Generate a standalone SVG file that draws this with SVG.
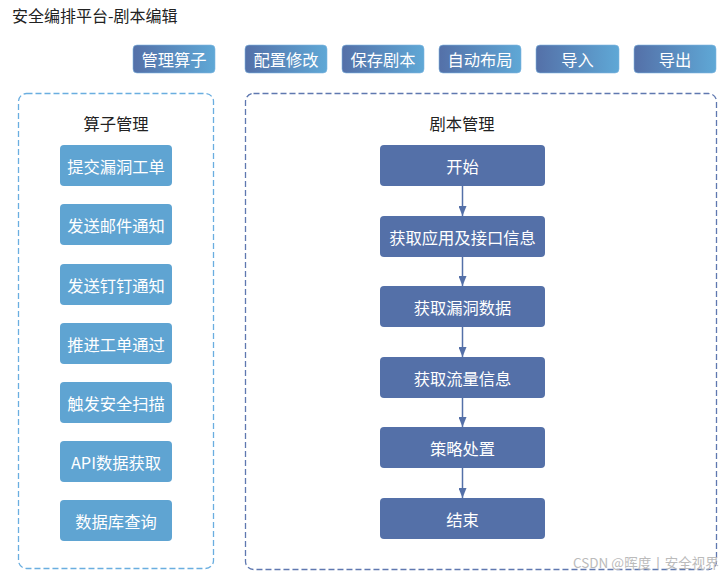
<svg xmlns="http://www.w3.org/2000/svg" width="726" height="576" viewBox="0 0 726 576">
<defs>
<linearGradient id="btnGrad" x1="0" y1="0" x2="1" y2="0">
<stop offset="0" stop-color="#5470a8"/>
<stop offset="1" stop-color="#5fa8d6"/>
</linearGradient>
<marker id="arrow" viewBox="0 0 10 8" refX="10" refY="4" markerWidth="10" markerHeight="8" markerUnits="userSpaceOnUse" orient="auto">
<path d="M0,0 L10,4 L0,8 Z" fill="#5470a8"/>
</marker>
<style>
text{font-family:"Noto Sans CJK SC","Noto Sans",sans-serif;}
.title{font-size:16px;fill:#222;}
.btn rect{fill:url(#btnGrad);stroke:#7fb7e0;stroke-width:0.6;}
.btn text{font-size:16.3px;fill:#fff;text-anchor:middle;dominant-baseline:central;}
.op rect{fill:#5fa4d2;}
.op text,.step text{font-size:16.3px;fill:#fff;text-anchor:middle;dominant-baseline:central;}
.step rect{fill:#5470a8;}
.panel{fill:none;stroke-width:1.3;stroke-dasharray:6 3;}
.ptitle{font-size:16.3px;fill:#222;text-anchor:middle;}
.conn line{stroke:#5470a8;stroke-width:1.5;}
.wm{font-size:13.5px;fill:#bbb;}
</style>
</defs>
<rect width="726" height="576" fill="#fff"/>
<text class="title" x="12" y="22">安全编排平台-剧本编辑</text>

<g id="btn-manage" class="btn"><rect x="133" y="45" width="82" height="28" rx="4"/><text x="174" y="59">管理算子</text></g>
<g id="btn-config" class="btn"><rect x="245" y="45" width="82" height="28" rx="4"/><text x="286" y="59">配置修改</text></g>
<g id="btn-save" class="btn"><rect x="342" y="45" width="82" height="28" rx="4"/><text x="383" y="59">保存剧本</text></g>
<g id="btn-layout" class="btn"><rect x="439" y="45" width="82" height="28" rx="4"/><text x="480" y="59">自动布局</text></g>
<g id="btn-import" class="btn"><rect x="536" y="45" width="83" height="28" rx="4"/><text x="577.5" y="59">导入</text></g>
<g id="btn-export" class="btn"><rect x="634" y="45" width="82" height="28" rx="4"/><text x="675" y="59">导出</text></g>

<g id="panel-ops">
<rect class="panel" x="18.5" y="93.5" width="195" height="475" rx="8" stroke="#6aaee0"/>
<text class="ptitle" x="116" y="130">算子管理</text>
</g>
<g id="panel-playbook">
<rect class="panel" x="245.5" y="93.5" width="471" height="476" rx="8" stroke="#5f78b0"/>
<text class="ptitle" x="462" y="130">剧本管理</text>
</g>

<g id="op1" class="op"><rect x="60" y="145" width="112" height="41" rx="4"/><text x="116" y="165.5">提交漏洞工单</text></g>
<g id="op2" class="op"><rect x="60" y="204" width="112" height="41" rx="4"/><text x="116" y="224.5">发送邮件通知</text></g>
<g id="op3" class="op"><rect x="60" y="264" width="112" height="41" rx="4"/><text x="116" y="284.5">发送钉钉通知</text></g>
<g id="op4" class="op"><rect x="60" y="323" width="112" height="41" rx="4"/><text x="116" y="343.5">推进工单通过</text></g>
<g id="op5" class="op"><rect x="60" y="382" width="112" height="41" rx="4"/><text x="116" y="402.5">触发安全扫描</text></g>
<g id="op6" class="op"><rect x="60" y="441" width="112" height="41" rx="4"/><text x="116" y="461.5">API数据获取</text></g>
<g id="op7" class="op"><rect x="60" y="500" width="112" height="41" rx="4"/><text x="116" y="520.5">数据库查询</text></g>

<g id="step-start" class="step"><rect x="380" y="145" width="165" height="41" rx="4"/><text x="462.5" y="165.5">开始</text></g>
<g id="step-app" class="step"><rect x="380" y="216" width="165" height="41" rx="4"/><text x="462.5" y="236.5">获取应用及接口信息</text></g>
<g id="step-vuln" class="step"><rect x="380" y="286" width="165" height="41" rx="4"/><text x="462.5" y="306.5">获取漏洞数据</text></g>
<g id="step-flow" class="step"><rect x="380" y="357" width="165" height="41" rx="4"/><text x="462.5" y="377.5">获取流量信息</text></g>
<g id="step-policy" class="step"><rect x="380" y="427" width="165" height="41" rx="4"/><text x="462.5" y="447.5">策略处置</text></g>
<g id="step-end" class="step"><rect x="380" y="498" width="165" height="41" rx="4"/><text x="462.5" y="518.5">结束</text></g>

<g id="connectors" class="conn">
<line x1="462.5" y1="186" x2="462.5" y2="216" marker-end="url(#arrow)"/>
<line x1="462.5" y1="257" x2="462.5" y2="286" marker-end="url(#arrow)"/>
<line x1="462.5" y1="327" x2="462.5" y2="357" marker-end="url(#arrow)"/>
<line x1="462.5" y1="398" x2="462.5" y2="427" marker-end="url(#arrow)"/>
<line x1="462.5" y1="468" x2="462.5" y2="498" marker-end="url(#arrow)"/>
</g>

<text class="wm" x="573" y="568">CSDN @晖度丨安全视界</text>
</svg>
